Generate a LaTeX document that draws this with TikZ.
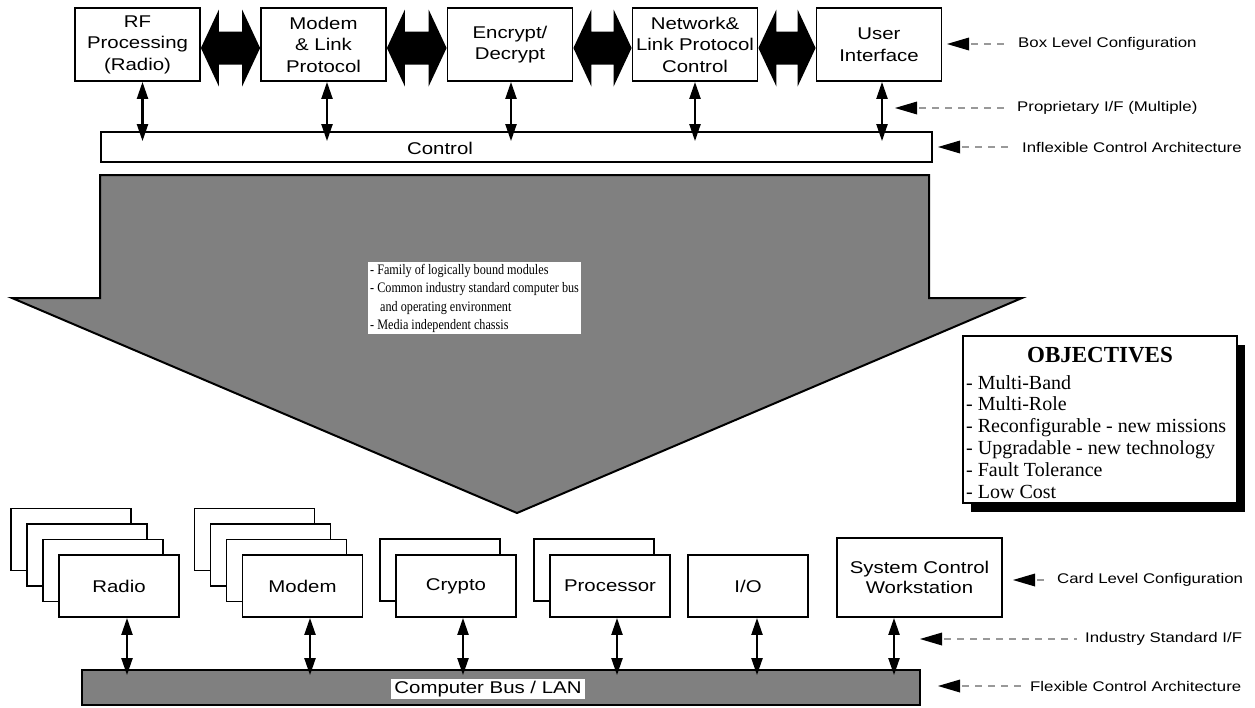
\documentclass[tikz,border=0pt]{standalone}
\usepackage{fontspec}
\setmainfont{Liberation Serif}
\newfontfamily\arl[FakeStretch=1.2]{Liberation Sans}
\newfontfamily\tmc[FakeStretch=0.84]{Liberation Serif}
\usetikzlibrary{arrows.meta,calc}
\newcommand{\fatarrow}[2]{%
  \fill ($(#1.east)+(0,3.5)$) -- ($(#1.east)+(18,-35)$) -- ($(#1.east)+(18,-13)$)
     -- ($(#2.west)+(-18,-13)$) -- ($(#2.west)+(-18,-35)$) -- ($(#2.west)+(0,3.5)$)
     -- ($(#2.west)+(-18,42)$) -- ($(#2.west)+(-18,20)$) -- ($(#1.east)+(18,20)$)
     -- ($(#1.east)+(18,42)$) -- cycle;}
\newcommand{\rlab}[5]{%
  \node[lbl] (#1) at (#3,#4) {#5};
  \coordinate (#1-t) at (#2,#4);
  \fill (#1-t) -- ++(22,-6.5) -- ++(0,13) -- cycle;
  \draw[dsh] ($(#1-t)+(24,0)$) -- ([xshift=-8pt]#1.west);}
\begin{document}
\begin{tikzpicture}[x=1pt,y=-1pt,
  bx/.style={draw,line width=1.8pt,fill=white,inner sep=0pt,align=center,
     font=\arl\fontsize{17}{21.5}\selectfont},
  topbox/.style={bx,minimum width=125pt,minimum height=73pt},
  card/.style={bx,minimum width=120pt,minimum height=62pt},
  dbl/.style={line width=2.2pt,{Triangle[length=17pt,width=11pt]}-{Triangle[length=17pt,width=11pt]}},
  lbl/.style={anchor=west,inner sep=0pt,font=\arl\fontsize{14}{16}\selectfont},
  dsh/.style={draw=black!40,line width=1.8pt,dash pattern=on 7pt off 6pt},
  obl/.style={anchor=base west,inner sep=0pt,font=\fontsize{20}{22}\selectfont}
]
\useasboundingbox (0,0) rectangle (1255,707);

% ---------- top boxes ----------
\node[topbox] (rf) at (137.5,44.5) {RF\\Processing\\(Radio)};
\node[topbox] (modem) at (323.5,44.5) {Modem\\\& Link\\Protocol};
\node[topbox] (enc) at (510,44.5) {Encrypt/\\Decrypt};
\node[topbox] (net) at (695,44.5) {Network\&\\Link Protocol\\Control};
\node[topbox] (ui) at (879,44.5) {User\\Interface};

\fatarrow{rf}{modem}
\fatarrow{modem}{enc}
\fatarrow{enc}{net}
\fatarrow{net}{ui}

% control bar
\node[bx,minimum width=831pt,minimum height=30pt] (ctl) at (516.5,147) {};
\node[inner sep=0pt,font=\arl\fontsize{17}{20}\selectfont] (ctltext) at (440,148) {Control};

\foreach \b/\s in {rf/5,modem/3.5,enc/1,net/0,ui/3}{
  \draw[dbl] ([xshift=\s pt]\b.south) -- ($([xshift=\s pt]\b.south |- ctl.north)+(0,10)$);
}

% ---------- big arrow ----------
\filldraw[fill=black!50,draw=black,line width=2pt,line join=miter]
  (100,175) -- (929,175) -- (929,298) -- (1022,298) -- (517,513) -- (12,298) -- (100,298) -- cycle;
\node[anchor=north west,fill=white,inner xsep=2pt,inner ysep=2pt,align=left,
      font=\tmc\fontsize{14.5}{18.3}\selectfont] (feat) at (368,262)
  {- Family of logically bound modules\\
   - Common industry standard computer bus\\
   \hspace*{10pt}and operating environment\\
   - Media independent chassis};

% ---------- objectives ----------
\fill (971,345) rectangle (1245,512);
\node[draw,line width=1.5pt,fill=white,minimum width=274pt,minimum height=167pt,inner sep=0pt] (obj) at (1100,419.5) {};
\node[anchor=base,inner sep=0pt,font=\bfseries\fontsize{23}{25}\selectfont] (objh) at (1100,362) {OBJECTIVES};
\foreach \t [count=\i] in {Multi-Band,Multi-Role,Reconfigurable - new missions,Upgradable - new technology,Fault Tolerance,Low Cost}{
  \node[obl] (obj\i) at (966,{389+21.8*(\i-1)}) {- \t};
}

% ---------- cards ----------
\foreach \k in {3,2,1} \node[card] (radio\k) at ($(119,586)+\k*(-16,-15.5)$) {};
\node[card] (radio) at (119,586) {Radio};
\foreach \k in {3,2,1} \node[card] (mod\k) at ($(302.5,586)+\k*(-16,-15.5)$) {};
\node[card] (mod) at (302.5,586) {Modem};
\node[card] (crypto1) at (440,570) {};
\node[card] (crypto) at (456,586) {Crypto};
\node[card] (proc1) at (594,570) {};
\node[card] (proc) at (610,586) {Processor};
\node[card] (io) at (748,586) {I/O};
\node[bx,minimum width=165pt,minimum height=79pt,font=\arl\fontsize{17}{20}\selectfont] (ws) at (919.5,577.5) {System Control\\Workstation};

% bus
\node[draw,line width=1.8pt,fill=black!50,minimum width=838pt,minimum height=35pt] (bus) at (501,687.5) {};
\node[fill=white,inner xsep=3pt,inner ysep=2pt,font=\arl\fontsize{17}{20}\selectfont] (bustext) at (488,689) {Computer Bus / LAN};

\foreach \b/\s in {radio/8,mod/7.5,crypto/7,proc/7,io/9,ws/-25.5}{
  \draw[dbl] ([xshift=\s pt]\b.south) -- ($([xshift=\s pt]\b.south |- bus.north)+(0,6)$);
}

% ---------- right labels ----------
\rlab{l1}{947}{1018}{44}{Box Level Configuration}
\rlab{l2}{895}{1017}{108}{Proprietary I/F (Multiple)}
\rlab{l3}{938}{1022}{147}{Inflexible Control Architecture}
\rlab{l4}{1013}{1057}{580}{Card Level Configuration}
\rlab{l5}{920}{1085}{639}{Industry Standard I/F}
\rlab{l6}{938}{1030}{686}{Flexible Control Architecture}
\end{tikzpicture}
\end{document}
